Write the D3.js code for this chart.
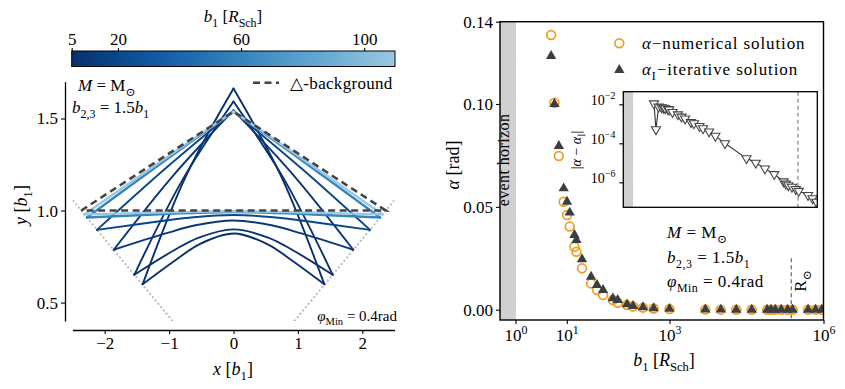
<!DOCTYPE html>
<html>
<head>
<meta charset="utf-8">
<script src="https://cdn.jsdelivr.net/npm/d3@7"></script>
<style>
  body { margin: 0; background: #fff; }
  svg { font-family: "Liberation Serif", "DejaVu Serif", serif; }
</style>
</head>
<body>
<div id="chart"></div>
<script>
// ---- left panel: light triangles for several b1 (right half, mirrored for left) ----
const loopB1    = [5, 6, 10, 20, 60, 110];
const vtxX      = [1.41, 1.54, 1.86, 2.12, 2.276, 2.316];
const vtxY      = [0.600, 0.651, 0.787, 0.895, 0.962, 0.979];
const arcOuterX = [0.875, 0.929, 1.041, 1.119, 1.163, 1.174];
const arcOuterY = [0.737, 0.783, 0.877, 0.943, 0.980, 0.989];
const arcInnerX = [0.525, 0.547, 0.590, 0.619, 0.634, 0.638];
const arcInnerY = [0.818, 0.852, 0.920, 0.964, 0.987, 0.993];
const arcPeakY  = [0.875, 0.898, 0.946, 0.976, 0.992, 0.996];
const sideMidX  = [0.744, 0.796, 0.940, 1.062, 1.139, 1.158];
const sideMidY  = [1.183, 1.164, 1.189, 1.227, 1.253, 1.260];
const apexY     = [1.663, 1.592, 1.545, 1.538, 1.537, 1.538];
// background triangle (no lensing)
const bgX = [-2.365, 0, 2.365];
const bgY = [1.0, 1.538, 1.0];
const phiMin = 0.4;
const cbTicks = [5, 20, 60, 100];

// ---- right panel: deflection angle vs b1 ----
const b1Vals = [4.95, 5.75, 7, 8.7, 10.1, 11.4, 14.1, 15.4, 19.8, 29.7, 38.8, 50.8, 79, 98, 149, 195, 305, 491, 1000,
  5000, 1e4, 2e4, 4e4, 8e4, 9.5e4, 1.15e5, 1.5e5, 2e5, 2.5e5, 5e5, 7e5, 9.3e5];
const alphaNum = [0.1335, 0.1006, 0.0747, 0.0525, 0.046, 0.0404, 0.0306, 0.0282, 0.0201, 0.0128, 0.0096, 0.0071, 0.0047, 0.0034,
  0.0023, 0.0016, 0.0010, 0.0006, 0.0003, 6e-5, 3e-5, 1.5e-5, 8e-6, 4e-6, 3.4e-6, 2.8e-6, 2.2e-6, 1.6e-6, 1.3e-6, 6e-7, 4.6e-7, 3.5e-7];
const alphaIt = [0.1233, 0.1000, 0.0796, 0.0590, 0.0525, 0.0472, 0.0363, 0.0339, 0.0245, 0.0160, 0.0120, 0.0096, 0.0055, 0.0047,
  0.0026, 0.0018, 0.0012, 0.0007, 0.0004, 8e-5, 4e-5, 2e-5, 1e-5, 5e-6, 4.2e-6, 3.5e-6, 2.8e-6, 2e-6, 1.7e-6, 8e-7, 6e-7, 4.5e-7];
const alphaDiff = [1.1e-2, 5.2e-4, 7.5e-3, 7.0e-3, 6.6e-3, 6.2e-3, 5.6e-3, 5.3e-3, 4.0e-3, 3.0e-3, 2.3e-3, 1.85e-3, 1.2e-3, 1.05e-3,
  7.6e-4, 5.8e-4, 4.0e-4, 2.4e-4, 1.0e-4, 1.7e-5, 1.0e-5, 5.0e-6, 2.6e-6, 1.1e-6, 8.5e-7, 7.0e-7, 5.8e-7, 4.5e-7, 3.6e-7, 2.2e-7, 1.5e-7, 1.0e-7];
const rSun = 2.357e5;      // solar radius in R_Sch
const alphaTicks = [0, 0.05, 0.10, 0.14];
const b1Ticks = [1, 10, 1000, 1e6];
const diffTicks = [1e-2, 1e-4, 1e-6];

const FS = 17;
const ORANGE = "#f39c1f", DARK = "#3b3e40";

const svg = d3.select("#chart").append("svg")
  .attr("width", 845).attr("height", 389);

// small helper for math-like text with sub/superscripts
function rich(sel, parts, fs) {
  let cur = 0;
  parts.forEach(([t, k]) => {
    k = k || "";
    const sub = k.includes("sub"), sup = k.includes("sup");
    const target = sub ? 0.28 * fs : sup ? -0.42 * fs : 0;
    const ts = sel.append("tspan").text(t).attr("dy", target - cur)
      .attr("font-size", (sub || sup) ? 0.7 * fs : fs);
    if (k.includes("i")) ts.attr("font-style", "italic");
    cur = target;
  });
  return sel;
}
function label(x, y, parts, fs, anchor, rot) {
  const t = svg.append("text").attr("text-anchor", anchor || "start")
    .attr("font-size", fs)
    .attr("transform", `translate(${x},${y})` + (rot ? ` rotate(${rot})` : ""));
  return rich(t, parts, fs);
}
function styleAxis(g, fs) {
  g.attr("font-family", "Liberation Serif, DejaVu Serif, serif").attr("font-size", fs);
  g.selectAll("line").attr("stroke", "#000").attr("stroke-width", 1.1);
  g.selectAll("path").attr("stroke", "#000").attr("stroke-width", 1.3);
}

// ================= LEFT PANEL =================
const xL = d3.scaleLinear().domain([-2.5, 2.5]).range([72.5, 394.5]);
const yL = d3.scaleLinear().domain([0.4, 1.7]).range([321, 81.7]);
const cmap = b => d3.interpolateBlues(1 - 0.62 * (b - 5) / 105);

svg.append("clipPath").attr("id", "clipL").append("rect")
  .attr("x", 72.5).attr("y", 81.7).attr("width", 322).attr("height", 239.3);
const gL = svg.append("g").attr("clip-path", "url(#clipL)");

// phi_min guide lines
[-1, 1].forEach(s => {
  const xs = [s * 2.7, s * 0.9];
  gL.append("line")
    .attr("x1", xL(xs[0])).attr("y1", yL(Math.tan(phiMin) * Math.abs(xs[0])))
    .attr("x2", xL(xs[1])).attr("y2", yL(Math.tan(phiMin) * Math.abs(xs[1])))
    .attr("stroke", "#bdbdbd").attr("stroke-width", 2.2)
    .attr("stroke-dasharray", "0.1,4.2").attr("stroke-linecap", "round");
});

const curve = d3.line().x(d => xL(d[0])).y(d => yL(d[1])).curve(d3.curveCatmullRom.alpha(0.5));
loopB1.forEach((b, i) => {
  const bottom = [[-vtxX[i], vtxY[i]], [-arcOuterX[i], arcOuterY[i]], [-arcInnerX[i], arcInnerY[i]], [0, arcPeakY[i]],
                  [arcInnerX[i], arcInnerY[i]], [arcOuterX[i], arcOuterY[i]], [vtxX[i], vtxY[i]]];
  const left = [[-vtxX[i], vtxY[i]], [-sideMidX[i], sideMidY[i]], [0, apexY[i]]];
  const right = [[vtxX[i], vtxY[i]], [sideMidX[i], sideMidY[i]], [0, apexY[i]]];
  [bottom, left, right].forEach(pts => {
    gL.append("path").attr("d", curve(pts)).attr("fill", "none")
      .attr("stroke", cmap(b)).attr("stroke-width", b > 30 ? 2.4 : 1.9)
      .attr("stroke-linejoin", "round").attr("stroke-linecap", "round");
  });
});

// background triangle
gL.append("path")
  .attr("d", d3.line().x(d => xL(d[0])).y(d => yL(d[1]))(bgX.map((x, i) => [x, bgY[i]]).concat([[bgX[0], bgY[0]]])))
  .attr("fill", "none").attr("stroke", "#444").attr("stroke-width", 2.6)
  .attr("stroke-dasharray", "7,4.5");

// axes (offset spines)
const gyL = svg.append("g").attr("transform", "translate(65,0)")
  .call(d3.axisLeft(yL).tickValues([0.5, 1.0, 1.5]).tickFormat(d3.format(".1f")).tickSize(4).tickSizeOuter(0));
styleAxis(gyL, FS);
const gxL = svg.append("g").attr("transform", "translate(0,330)")
  .call(d3.axisBottom(xL).tickValues([-2, -1, 0, 1, 2]).tickFormat(d3.format("d")).tickSize(4).tickSizeOuter(0));
styleAxis(gxL, FS);

label(233, 375, [["x", "i"], [" [", ""], ["b", "i"], ["1", "sub"], ["]", ""]], 18, "middle");
label(27, 205, [["y", "i"], [" [", ""], ["b", "i"], ["1", "sub"], ["]", ""]], 18, "middle", -90);

label(78, 91, [["M", "i"], [" = M", ""], ["⊙", "sub"]], 17);
label(72, 113, [["b", "i"], ["2,3", "sub"], [" = 1.5", ""], ["b", "i"], ["1", "sub"]], 17);
label(397, 321, [["φ", "i"], ["Min", "sub"], [" = 0.4rad", ""]], 15, "end");

// legend
svg.append("line").attr("x1", 253).attr("x2", 279).attr("y1", 82.7).attr("y2", 82.7)
  .attr("stroke", "#444").attr("stroke-width", 2.6).attr("stroke-dasharray", "7,4.5");
label(290, 88.5, [["△-background", ""]], 17).attr("letter-spacing", 0.3);

// colorbar
const cb = d3.scaleLinear().domain([5, 110]).range([71.7, 395]);
const grad = svg.append("defs").append("linearGradient").attr("id", "cbgrad");
d3.range(0, 1.0001, 0.1).forEach(t => {
  grad.append("stop").attr("offset", t).attr("stop-color", cmap(5 + t * 105));
});
svg.append("rect").attr("x", 71.7).attr("y", 51).attr("width", 323.3).attr("height", 15.5)
  .attr("fill", "url(#cbgrad)").attr("stroke", "#000").attr("stroke-width", 1);
const gcb = svg.append("g").attr("transform", "translate(0,51)")
  .call(d3.axisTop(cb).tickValues(cbTicks).tickSize(3).tickSizeOuter(0));
gcb.select(".domain").remove();
styleAxis(gcb, FS);
label(233, 22, [["b", "i"], ["1", "sub"], [" [", ""], ["R", "i"], ["Sch", "sub"], ["]", ""]], 17, "middle");

// ================= RIGHT PANEL =================
const xR = d3.scaleLog().domain([0.5, 1e6]).range([500, 823.5]);
const yR = d3.scaleLinear().domain([-0.005, 0.14]).range([320, 21.7]);

svg.append("rect").attr("x", xR(0.5)).attr("y", 21.7).attr("width", xR(1) - xR(0.5)).attr("height", 298.3)
  .attr("fill", "#d0d0d0");
svg.append("line").attr("x1", xR(1)).attr("x2", xR(1)).attr("y1", 21.7).attr("y2", 320)
  .attr("stroke", "#a8a8a8").attr("stroke-width", 1).attr("stroke-dasharray", "1,1.5");
label(509, 160, [["event horizon", ""]], 16, "middle", -90).attr("letter-spacing", 0.4);

// R_sun marker
svg.append("line").attr("x1", xR(rSun)).attr("x2", xR(rSun)).attr("y1", yR(0.025)).attr("y2", 320)
  .attr("stroke", "#666").attr("stroke-width", 1.2).attr("stroke-dasharray", "4,3");
label(806, 281, [["R", ""], ["⊙", "sub"]], 17, "middle", -90);

svg.append("clipPath").attr("id", "clipR").append("rect")
  .attr("x", 500).attr("y", 21.7).attr("width", 323.5).attr("height", 298.3);
const gR = svg.append("g").attr("clip-path", "url(#clipR)");

gR.selectAll("circle.num").data(b1Vals).join("circle")
  .attr("cx", d => xR(d)).attr("cy", (d, i) => yR(alphaNum[i])).attr("r", 4.4)
  .attr("fill", "none").attr("stroke", ORANGE).attr("stroke-width", 1.7);
const tri = d3.symbol().type(d3.symbolTriangle).size(46);
gR.selectAll("path.it").data(b1Vals).join("path")
  .attr("d", tri).attr("transform", (d, i) => `translate(${xR(d)},${yR(alphaIt[i])})`)
  .attr("fill", DARK);

// axes box and ticks
const gyR = svg.append("g").attr("transform", "translate(500,0)")
  .call(d3.axisLeft(yR).tickValues(alphaTicks).tickFormat(d3.format(".2f")).tickSize(4));
gyR.select(".domain").remove();
styleAxis(gyR, FS);
const gxR = svg.append("g").attr("transform", "translate(0,320)")
  .call(d3.axisBottom(xR).tickValues(b1Ticks).tickSize(4).tickFormat(""));
gxR.select(".domain").remove();
styleAxis(gxR, FS);
gxR.selectAll(".tick").append("text").attr("y", 21).attr("text-anchor", "middle").attr("fill", "#000")
  .each(function(d) {
    rich(d3.select(this), [["10", ""], [String(Math.round(Math.log10(d))), "sup"]], FS);
  });
svg.append("rect").attr("x", 500).attr("y", 21.7).attr("width", 323.5).attr("height", 298.3)
  .attr("fill", "none").attr("stroke", "#000").attr("stroke-width", 1.4);

label(664, 366, [["b", "i"], ["1", "sub"], [" [", ""], ["R", "i"], ["Sch", "sub"], ["]", ""]], 18, "middle");
label(459, 165, [["α", "i"], [" [rad]", ""]], 18, "middle", -90);

// legend
svg.append("circle").attr("cx", 619.3).attr("cy", 43.3).attr("r", 4.4)
  .attr("fill", "none").attr("stroke", ORANGE).attr("stroke-width", 1.7);
svg.append("path").attr("d", tri).attr("transform", "translate(619.3,70)").attr("fill", DARK);
label(642, 49, [["α", "i"], ["−numerical solution", ""]], FS).attr("letter-spacing", 0.9);
label(642, 75, [["α", "i"], ["I", "sub"], ["−iterative solution", ""]], FS).attr("letter-spacing", 0.9);

// annotation
label(667, 238, [["M", "i"], [" = M", ""], ["⊙", "sub"]], FS).attr("letter-spacing", 0.5);
label(667, 263, [["b", "i"], ["2,3", "sub"], [" = 1.5", ""], ["b", "i"], ["1", "sub"]], FS).attr("letter-spacing", 0.5);
label(667, 287, [["φ", "i"], ["Min", "sub"], [" = 0.4rad", ""]], FS).attr("letter-spacing", 0.5);

// ================= INSET =================
const xI = d3.scaleLog().domain([0.5, 1e6]).range([623.3, 817.3]);
const yI = d3.scaleLog().domain([5.25e-8, 0.0443]).range([207.3, 91.7]);
svg.append("rect").attr("x", 623.3).attr("y", 91.7).attr("width", 194).attr("height", 115.6).attr("fill", "#fff");
svg.append("rect").attr("x", xI(0.5)).attr("y", 91.7).attr("width", xI(1) - xI(0.5)).attr("height", 115.6)
  .attr("fill", "#d0d0d0");
svg.append("line").attr("x1", xI(1)).attr("x2", xI(1)).attr("y1", 91.7).attr("y2", 207.3)
  .attr("stroke", "#a8a8a8").attr("stroke-width", 1).attr("stroke-dasharray", "1,1.5");
svg.append("line").attr("x1", xI(rSun)).attr("x2", xI(rSun)).attr("y1", 91.7).attr("y2", 207.3)
  .attr("stroke", "#777").attr("stroke-width", 1.1).attr("stroke-dasharray", "4,3");

svg.append("clipPath").attr("id", "clipI").append("rect")
  .attr("x", 623.3).attr("y", 91.7).attr("width", 194).attr("height", 115.6);
const gI = svg.append("g").attr("clip-path", "url(#clipI)");
gI.append("path")
  .attr("d", d3.line().x((d, i) => xI(d)).y((d, i) => yI(alphaDiff[i]))(b1Vals))
  .attr("fill", "none").attr("stroke", "#333").attr("stroke-width", 1.1);
const triDown = d3.symbol().type(d3.symbolTriangle).size(36);
gI.selectAll("path.diff").data(b1Vals).join("path")
  .attr("d", triDown).attr("transform", (d, i) => `translate(${xI(d)},${yI(alphaDiff[i])}) rotate(180)`)
  .attr("fill", "#fff").attr("stroke", "#444").attr("stroke-width", 1.1);

const gyI = svg.append("g").attr("transform", "translate(623.3,0)")
  .call(d3.axisLeft(yI).tickValues(diffTicks).tickSize(4).tickFormat(""));
gyI.select(".domain").remove();
styleAxis(gyI, 13);
gyI.selectAll(".tick").append("text").attr("x", -8).attr("dy", "0.32em").attr("text-anchor", "end").attr("fill", "#000")
  .each(function(d) {
    rich(d3.select(this), [["10", ""], ["−" + Math.round(-Math.log10(d)), "sup"]], 14);
  });
svg.append("rect").attr("x", 623.3).attr("y", 91.7).attr("width", 194).attr("height", 115.6)
  .attr("fill", "none").attr("stroke", "#000").attr("stroke-width", 1.3);
label(581, 150, [["|", ""], ["α", "i"], [" − ", ""], ["α", "i"], ["I", "sub"], ["|", ""]], 14, "middle", -90);
</script>
</body>
</html>
